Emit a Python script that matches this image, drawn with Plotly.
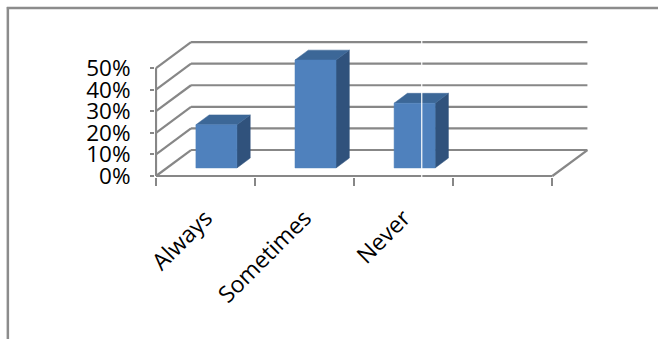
import plotly.graph_objects as go

# ---- data ----
categories = ["Always", "Sometimes", "Never"]
values = [20, 50, 30]            # percent
y_ticks = [0, 10, 20, 30, 40, 50]
y_ticklabels = ["0%", "10%", "20%", "30%", "40%", "50%"]
n_slots = 4                      # category slots on the floor (last one empty)

# ---- style / geometry ----
W, H = 658, 339
PX_CAT = 99.0                    # px per category slot
PX_PCT = 2.16                    # px per percent
X0_PX, Y0_PX = 156, 176          # pixel of data origin
DX = 35 / PX_CAT                 # depth offset (x, data units)
DY = 26 / PX_PCT                 # depth offset (y, data units)
BAR_W = 0.414
F_D, B_D = 0.31, 0.69            # bar front / back depth fraction
GRID = "#878787"
FRONT, TOP, SIDE = "#4F81BD", "#3C6797", "#30527C"
FONT = "Open Sans"

xr = [-1 / PX_CAT, 4.42]
yr = [-1 / PX_PCT, 63.0]
l = X0_PX + xr[0] * PX_CAT
r = W - (X0_PX + xr[1] * PX_CAT)
b = H - (Y0_PX - yr[0] * PX_PCT)
t = Y0_PX - yr[1] * PX_PCT

fig = go.Figure()

def line(xs, ys):
    fig.add_trace(go.Scatter(x=xs, y=ys, mode="lines", line=dict(color=GRID, width=2.2),
                             hoverinfo="skip", showlegend=False))

top_v = y_ticks[-1]
# back wall gridlines and side-wall diagonals
for v in y_ticks:
    line([DX, n_slots + DX], [v + DY, v + DY])
    line([0, DX], [v, v + DY])
# front axes and floor edge
line([0, 0], [0, top_v])
line([0, n_slots], [0, 0])
line([n_slots, n_slots + DX], [0, DY])

# 3D bars
for i, v in enumerate(values):
    xl = i + 0.5 - BAR_W / 2
    xrr = i + 0.5 + BAR_W / 2
    fx, fy = F_D * DX, F_D * DY
    bx, by = B_D * DX, B_D * DY
    # side face
    fig.add_trace(go.Scatter(
        x=[xrr + fx, xrr + bx, xrr + bx, xrr + fx, xrr + fx],
        y=[fy, by, v + by, v + fy, fy],
        mode="lines", fill="toself", fillcolor=SIDE, line=dict(color=SIDE, width=0.5),
        hoverinfo="skip", showlegend=False))
    # top face
    fig.add_trace(go.Scatter(
        x=[xl + fx, xrr + fx, xrr + bx, xl + bx, xl + fx],
        y=[v + fy, v + fy, v + by, v + by, v + fy],
        mode="lines", fill="toself", fillcolor=TOP, line=dict(color=TOP, width=0.5),
        hoverinfo="skip", showlegend=False))
    # front face
    fig.add_trace(go.Scatter(
        x=[xl + fx, xrr + fx, xrr + fx, xl + fx, xl + fx],
        y=[fy, fy, v + fy, v + fy, fy],
        mode="lines", fill="toself", fillcolor=FRONT, line=dict(color=FRONT, width=0.5),
        hoverinfo="skip", showlegend=False))

# invisible trace on the label axis
fig.add_trace(go.Scatter(x=[i + 0.5 for i in range(len(categories))], y=values,
                         xaxis="x2", mode="markers", marker=dict(opacity=0),
                         hoverinfo="skip", showlegend=False))

plot_w = W - l - r
plot_h = H - t - b
px2x = lambda px: (px - l) / plot_w
px2y = lambda py: 1 - (py - t) / plot_h

fig.update_layout(
    width=W, height=H, margin=dict(l=l, r=r, t=t, b=b, pad=0),
    paper_bgcolor="white", plot_bgcolor="white",
    font=dict(family=FONT, color="black"),
    xaxis=dict(range=xr, tickvals=list(range(n_slots + 1)),
               ticktext=[""] * (n_slots + 1), ticks="outside", ticklen=8, tickwidth=2,
               tickcolor=GRID, showgrid=False, zeroline=False, showline=False, fixedrange=True),
    xaxis2=dict(range=xr, overlaying="x", anchor="y", side="bottom",
                tickvals=[i + 0.5 for i in range(len(categories))], ticktext=categories,
                tickangle=-45, ticks="", showgrid=False, zeroline=False, showline=False,
                tickfont=dict(size=23, family=FONT, color="black"), ticklabelstandoff=22),
    yaxis=dict(range=yr, tickvals=y_ticks, ticktext=y_ticklabels, ticks="outside",
               ticklen=4, tickwidth=2, tickcolor=GRID, showgrid=False, zeroline=False,
               showline=False, tickfont=dict(size=22.5, family=FONT, color="black"),
               ticklabelstandoff=15),
    shapes=[
        dict(type="line", xref="paper", yref="paper", x0=px2x(8), x1=px2x(8),
             y0=px2y(7), y1=px2y(H + 5), line=dict(color="#8c8c8c", width=2.5)),
        dict(type="line", xref="paper", yref="paper", x0=px2x(7), x1=px2x(W + 5),
             y0=px2y(8), y1=px2y(8), line=dict(color="#8c8c8c", width=2.5)),
        # thin white scan artifact crossing the plot
        dict(type="line", xref="paper", yref="paper", x0=px2x(421.5), x1=px2x(421.5),
             y0=px2y(38), y1=px2y(182), line=dict(color="white", width=1.2), layer="above"),
    ],
)

fig.write_html("out.html")
